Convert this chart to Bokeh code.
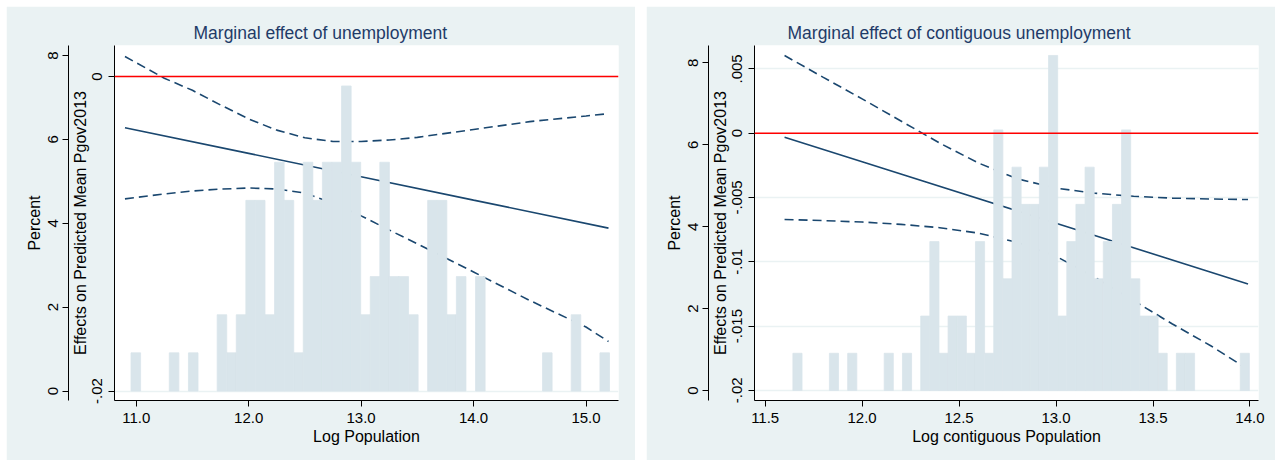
import numpy as np
from bokeh.plotting import figure
from bokeh.models import (Range1d, LinearAxis, FixedTicker, NumeralTickFormatter,
                          CustomJSTickFormatter, Span, Title)
from bokeh.layouts import row
from bokeh.embed import file_html
from bokeh.resources import INLINE

# ---------------- data: left panel (Log Population) ----------------
L_counts = [1, 0, 0, 0, 1, 0, 1, 0, 0, 2, 1, 2, 5, 5, 2, 6, 5, 1, 6, 5,
            6, 6, 8, 6, 2, 3, 6, 3, 3, 2, 0, 5, 5, 2, 3, 0, 3, 0, 0, 0,
            0, 0, 0, 1, 0, 0, 2, 0, 0, 1]
L_bin_lo, L_bin_hi = 10.954, 15.209
L_x = [10.9, 11.25, 11.5, 11.75, 12.0, 12.25, 12.5, 12.75, 13.0, 13.25, 13.5, 14.0, 14.5, 15.0, 15.2]
L_upper = [0.00127, -0.00011, -0.00088, -0.00181, -0.00270, -0.00341, -0.00390, -0.00413,
           -0.00413, -0.00404, -0.00387, -0.00337, -0.00287, -0.00251, -0.00236]
L_lower = [-0.00778, -0.00747, -0.00728, -0.00716, -0.00709, -0.00715, -0.00741, -0.00805,
           -0.00886, -0.00976, -0.01064, -0.01243, -0.01424, -0.01593, -0.01685]
L_mid_x = [10.9, 12.0, 13.0, 14.0, 15.2]
L_mid = [-0.00326, -0.00489, -0.00637, -0.00786, -0.00964]
L_xticks = [11.0, 12.0, 13.0, 14.0, 15.0]
L_eff_ticks = [-0.02, 0.0]

# ---------------- data: right panel (Log contiguous Population) ----------------
R_counts = [1, 0, 0, 0, 1, 0, 1, 0, 0, 0, 1, 0, 1, 0, 2, 4, 1, 2, 2, 1,
            4, 1, 7, 3, 6, 5, 5, 6, 9, 2, 4, 5, 6, 3, 4, 5, 7, 3, 2, 2,
            1, 0, 1, 1, 0, 0, 0, 0, 0, 1]
R_bin_lo, R_bin_hi = 11.643, 13.997
R_x = [11.6, 11.8, 12.0, 12.2, 12.4, 12.6, 12.8, 13.0, 13.2, 13.4, 13.6, 13.8, 13.99]
R_upper = [0.00604, 0.00434, 0.00267, 0.00095, -0.00077, -0.00232, -0.00355, -0.00427,
           -0.00467, -0.00491, -0.00505, -0.00512, -0.00516]
R_lower = [-0.00671, -0.00680, -0.00691, -0.00709, -0.00735, -0.00777, -0.00849, -0.00957,
           -0.01121, -0.01302, -0.01484, -0.01655, -0.01837]
R_mid_x = [11.6, 12.0, 13.0, 13.99]
R_mid = [-0.00031, -0.00222, -0.00700, -0.01173]
R_xticks = [11.5, 12.0, 12.5, 13.0, 13.5, 14.0]
R_eff_ticks = [-0.02, -0.015, -0.01, -0.005, 0.0, 0.005]

N_OBS = 110
PCT_TICKS = [0, 2, 4, 6, 8]

FONT = "Liberation Sans"
BG = "#EAF2F3"
NAVY = "#1A476F"
BAR = "#D9E5EB"
TITLE_C = "#1F3B68"


def style_axis(ax):
    ax.axis_line_color = "black"
    ax.axis_line_width = 1
    ax.major_tick_line_color = "black"
    ax.major_tick_out = 6
    ax.major_tick_in = 0
    ax.minor_tick_line_color = None
    ax.major_label_text_font = FONT
    ax.major_label_text_font_size = "15px"
    ax.major_label_text_color = "black"
    ax.axis_label_text_font = FONT
    ax.axis_label_text_font_size = "16px"
    ax.axis_label_text_font_style = "normal"
    ax.axis_label_text_color = "black"


def panel(title, xlabel, width, bl, br, margin, x_rng, eff_rng, pct_rng, xticks, eff_ticks,
          counts, lo, hi, xs, upper, lower, mx, mid, title_offset):
    p = figure(width=width, height=454, x_range=Range1d(*x_rng), y_range=Range1d(*eff_rng),
               output_backend="svg", toolbar_location=None, title=None,
               min_border_left=bl, min_border_right=br, min_border_top=39, min_border_bottom=60,
               background_fill_color="white", border_fill_color=BG, outline_line_color=None,
               margin=margin)
    p.extra_y_ranges = {"pct": Range1d(*pct_rng)}

    # effects axis (inner)
    ea = p.yaxis[0]
    style_axis(ea)
    ea.ticker = FixedTicker(ticks=eff_ticks)
    ea.formatter = CustomJSTickFormatter(
        code="return tick == 0 ? '0' : tick.toString().replace('0.', '.');")
    ea.major_label_orientation = "vertical"
    ea.major_label_standoff = 6
    ea.axis_label = "Effects on Predicted Mean Pgov2013"
    ea.axis_label_standoff = 1

    # percent axis (outer)
    pa = LinearAxis(y_range_name="pct", ticker=FixedTicker(ticks=PCT_TICKS))
    style_axis(pa)
    pa.major_label_orientation = "vertical"
    pa.major_label_standoff = 4
    pa.axis_label = "Percent"
    pa.axis_label_standoff = 3
    p.add_layout(pa, "left")

    xa = p.xaxis[0]
    style_axis(xa)
    xa.ticker = FixedTicker(ticks=xticks)
    xa.formatter = NumeralTickFormatter(format="0.0")
    xa.major_label_standoff = 6
    xa.axis_label = xlabel
    xa.axis_label_standoff = 2

    p.xgrid.visible = False
    p.ygrid.ticker = FixedTicker(ticks=eff_ticks)
    p.ygrid.grid_line_color = BG
    p.ygrid.grid_line_width = 1.5

    # marginal effect and confidence bounds
    p.line(xs, upper, line_color=NAVY, line_width=1.6, line_dash="9 5")
    p.line(xs, lower, line_color=NAVY, line_width=1.6, line_dash="9 5")
    p.line(mx, mid, line_color=NAVY, line_width=1.6)

    # histogram (percent axis)
    edges = np.linspace(lo, hi, len(counts) + 1)
    pct = np.array(counts) * 100.0 / N_OBS
    keep = pct > 0
    p.quad(left=edges[:-1][keep], right=edges[1:][keep], bottom=0, top=pct[keep],
           y_range_name="pct", fill_color=BAR, line_color=BAR, line_width=0.8)

    p.add_layout(Span(location=0, dimension="width", line_color="#FF0000", line_width=1.6))

    p.add_layout(Title(text=title, align="left", offset=title_offset, standoff=6,
                       text_font=FONT, text_font_size="17.5px", text_font_style="normal",
                       text_color=TITLE_C), "above")
    return p


pL = panel("Marginal effect of unemployment", "Log Population", 629, 108, 17, (6, 0, 0, 6),
           (10.807, 15.289), (-0.0206, 0.00197), (-0.2265, 8.238), L_xticks, L_eff_ticks,
           L_counts, L_bin_lo, L_bin_hi, L_x, L_upper, L_lower, L_mid_x, L_mid, 79)

pR = panel("Marginal effect of contiguous unemployment", "Log contiguous Population", 629, 108, 17,
           (6, 0, 0, 0),
           (11.445, 14.044), (-0.02079, 0.00682), (-0.244, 8.425), R_xticks, R_eff_ticks,
           R_counts, R_bin_lo, R_bin_hi, R_x, R_upper, R_lower, R_mid_x, R_mid, 33)

layout = row(pL, pR, spacing=11)
open("out.html", "w").write(file_html(layout, INLINE))
